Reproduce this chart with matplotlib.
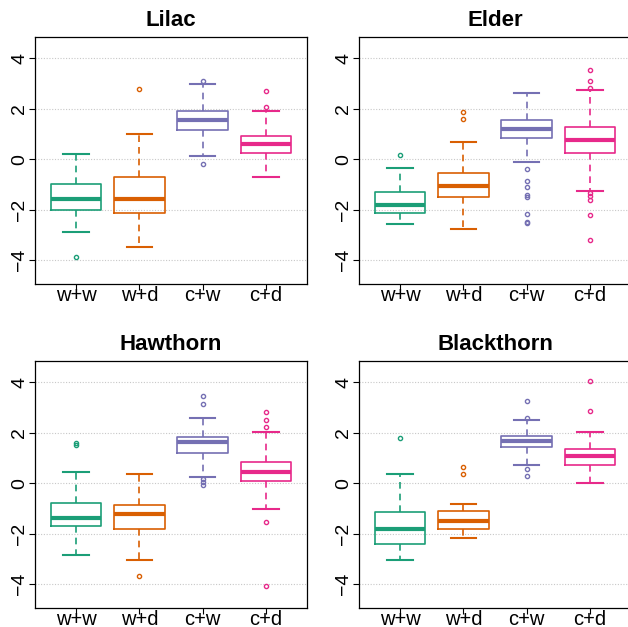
import matplotlib
matplotlib.use("Agg")
import matplotlib.pyplot as plt

# group labels and panel titles
groups = ["w+w", "w+d", "c+w", "c+d"]
titles = ["Lilac", "Elder", "Hawthorn", "Blackthorn"]
colors = ["#1B9E77", "#D95F02", "#7570B3", "#E7298A"]

# per-panel box stats: [w+w, w+d, c+w, c+d]
lilac_lo = [-2.90, -3.48, 0.11, -0.69]
lilac_q1 = [-2.00, -2.12, 1.16, 0.26]
lilac_med = [-1.56, -1.56, 1.57, 0.61]
lilac_q3 = [-0.99, -0.70, 1.90, 0.94]
lilac_hi = [0.21, 1.01, 2.98, 1.93]
lilac_out = [[-3.88], [2.80], [3.10, -0.17], [2.69, 2.08]]

elder_lo = [-2.58, -2.76, -0.11, -1.26]
elder_q1 = [-2.13, -1.48, 0.83, 0.25]
elder_med = [-1.81, -1.06, 1.20, 0.78]
elder_q3 = [-1.31, -0.54, 1.55, 1.27]
elder_hi = [-0.34, 0.69, 2.63, 2.74]
elder_out = [[0.16], [1.88, 1.61],
             [-0.40, -0.86, -1.10, -1.42, -1.49, -2.16, -2.47, -2.54],
             [3.56, 3.11, 2.84, -1.34, -1.47, -1.63, -2.20, -3.19]]

hawthorn_lo = [-2.86, -3.04, 0.25, -1.03]
hawthorn_q1 = [-1.68, -1.82, 1.19, 0.08]
hawthorn_med = [-1.36, -1.21, 1.64, 0.44]
hawthorn_q3 = [-0.77, -0.88, 1.85, 0.86]
hawthorn_hi = [0.46, 0.36, 2.60, 2.03]
hawthorn_out = [[1.61, 1.53], [-3.68], [3.45, 3.13, 0.16, 0.03, -0.07],
                [2.83, 2.51, 2.22, -1.54, -4.07]]

blackthorn_lo = [-3.06, -2.18, 0.74, -0.01]
blackthorn_q1 = [-2.43, -1.81, 1.43, 0.71]
blackthorn_med = [-1.82, -1.50, 1.66, 1.07]
blackthorn_q3 = [-1.14, -1.12, 1.87, 1.37]
blackthorn_hi = [0.38, -0.83, 2.50, 2.05]
blackthorn_out = [[1.81], [0.65, 0.37], [3.27, 2.59, 0.58, 0.29], [4.07, 2.85]]

panels = [
    (lilac_lo, lilac_q1, lilac_med, lilac_q3, lilac_hi, lilac_out),
    (elder_lo, elder_q1, elder_med, elder_q3, elder_hi, elder_out),
    (hawthorn_lo, hawthorn_q1, hawthorn_med, hawthorn_q3, hawthorn_hi, hawthorn_out),
    (blackthorn_lo, blackthorn_q1, blackthorn_med, blackthorn_q3, blackthorn_hi, blackthorn_out),
]

plt.rcParams["font.family"] = ["Liberation Sans", "DejaVu Sans"]

fig = plt.figure(figsize=(6.28, 6.27), dpi=100)
# axes rectangles in figure fractions (left, bottom, width, height)
rects = [(0.0557, 0.547, 0.4331, 0.394), (0.5717, 0.547, 0.4331, 0.394),
         (0.0557, 0.0303, 0.4331, 0.394), (0.5717, 0.0303, 0.4331, 0.394)]

for title, rect, (lo, q1, med, q3, hi, out) in zip(titles, rects, panels):
    ax = fig.add_axes(rect)
    for y in [-4, -2, 0, 2, 4]:
        ax.axhline(y, color="#c8c8c8", lw=0.8, ls=(0, (1, 1.5)), zorder=0)
    for i in range(4):
        stats = [dict(whislo=lo[i], q1=q1[i], med=med[i], q3=q3[i],
                      whishi=hi[i], fliers=out[i])]
        c = colors[i]
        ax.bxp(stats, positions=[i + 1], widths=0.8, capwidths=0.4,
               showfliers=True,
               boxprops=dict(color=c, lw=1.2),
               medianprops=dict(color=c, lw=3.0, solid_capstyle="butt"),
               whiskerprops=dict(color=c, lw=1.2, ls=(0, (4, 3))),
               capprops=dict(color=c, lw=1.5),
               flierprops=dict(marker="o", markersize=3, markerfacecolor="none",
                               markeredgecolor=c, markeredgewidth=1.0))
    ax.set_xlim(0.35, 4.65)
    ax.set_ylim(-4.95, 4.85)
    ax.set_xticks([1, 2, 3, 4])
    ax.set_xticklabels(groups, fontsize=14.5)
    ax.set_yticks([-4, -2, 0, 2, 4])
    ax.set_yticklabels(["\u22124", "\u22122", "0", "2", "4"], fontsize=14,
                       rotation=90, va="center")
    ax.tick_params(axis="both", length=4, width=0.8)
    ax.tick_params(axis="x", pad=-2.5)
    ax.tick_params(axis="y", pad=1)
    for s in ax.spines.values():
        s.set_linewidth(0.9)
    ax.set_title(title, fontsize=16, fontweight="bold", pad=8)

fig.savefig("out.png", dpi=100)
